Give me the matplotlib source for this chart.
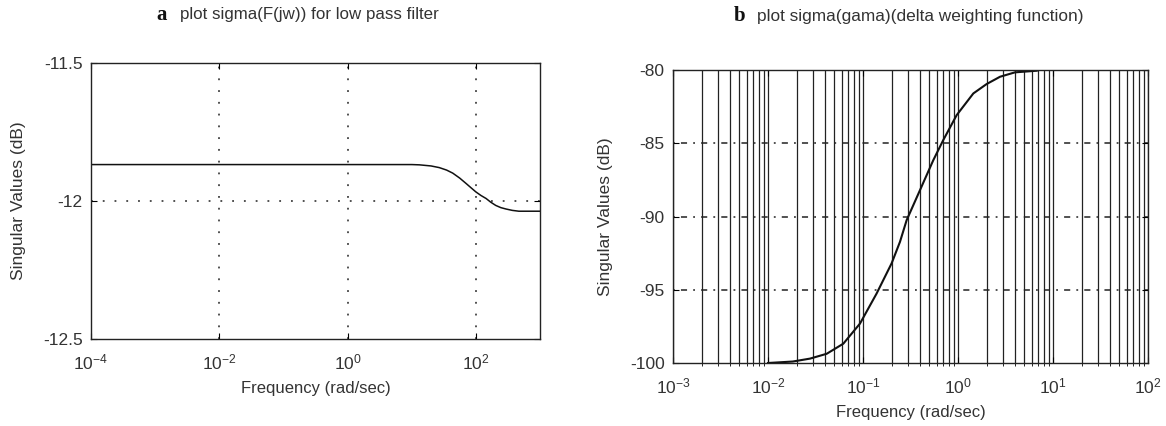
import numpy as np
import matplotlib
matplotlib.use("Agg")
import matplotlib.pyplot as plt
from matplotlib.ticker import FixedLocator, LogLocator, NullLocator, FixedFormatter

plt.rcParams["font.family"] = ["Liberation Sans", "DejaVu Sans"]
plt.rcParams["mathtext.default"] = "regular"

# panel a: sigma of the low pass filter
freq_a = [1e-4, 1.0, 10.0, 13.2, 20.0, 26.9, 35.0, 43.6, 56.0, 70.8, 85.0,
          100.0, 120.0, 144.5, 170.0, 204.0, 245.0, 295.0, 370.0, 468.0, 1000.0]
sv_a = [-11.868, -11.868, -11.868, -11.869, -11.873, -11.879, -11.888, -11.899,
        -11.917, -11.937, -11.953, -11.967, -11.980, -11.991, -12.004, -12.016,
        -12.024, -12.029, -12.034, -12.037, -12.037]

# panel b: delta weighting function
freq_b = [0.01, 0.0182, 0.0277, 0.0415, 0.0621, 0.0929, 0.139, 0.200, 0.245,
          0.288, 0.398, 0.550, 0.700, 0.968, 1.45, 2.0, 2.77, 3.98, 6.73]
sv_b = [-100.0, -99.9, -99.7, -99.37, -98.68, -97.31, -95.26, -93.2, -91.73,
        -90.25, -88.2, -86.15, -84.78, -83.08, -81.6, -80.96, -80.46, -80.16, -80.05]

ticks_a = [1e-4, 1e-2, 1e0, 1e2]
ticklabels_a = ["$10^{-4}$", "$10^{-2}$", "$10^{0}$", "$10^{2}$"]
yticks_a = [-12.5, -12, -11.5]
ticks_b = [1e-3, 1e-2, 1e-1, 1e0, 1e1, 1e2]
ticklabels_b = ["$10^{-3}$", "$10^{-2}$", "$10^{-1}$", "$10^{0}$", "$10^{1}$", "$10^{2}$"]
yticks_b = [-100, -95, -90, -85, -80]

txt = "#333333"
dots = (0, (1.2, 6.5))

fig = plt.figure(figsize=(11.66, 4.26), dpi=100)
ax1 = fig.add_axes([91 / 1166, 1 - 339 / 426, 449 / 1166, 276 / 426])
ax2 = fig.add_axes([673 / 1166, 1 - 363 / 426, 475 / 1166, 293 / 426])

for ax in (ax1, ax2):
    ax.set_xscale("log")
    ax.tick_params(direction="in", top=True, right=True, labelsize=12.5,
                   labelcolor=txt, length=4, width=0.8)
    ax.tick_params(axis="x", pad=10)
    ax.tick_params(axis="y", pad=6)
    for s in ax.spines.values():
        s.set_linewidth(1.0)
        s.set_color("#222222")
    ax.set_xlabel("Frequency (rad/sec)", fontsize=12, color=txt, labelpad=6)
    ax.set_ylabel("Singular Values (dB)", fontsize=12.5, color=txt, labelpad=12)

# --- a ---
ax1.plot(freq_a, sv_a, color="#111111", lw=1.1)
ax1.set_xlim(1e-4, 1e3)
ax1.set_ylim(-12.5, -11.5)
ax1.xaxis.set_major_locator(FixedLocator(ticks_a))
ax1.xaxis.set_major_formatter(FixedFormatter(ticklabels_a))
ax1.xaxis.set_minor_locator(NullLocator())
ax1.set_yticks(yticks_a)
ax1.set_yticklabels(["-12.5", "-12", "-11.5"])
ax1.grid(True, which="major", color="#222222", lw=1.1, linestyle=dots)

# --- b ---
ax2.plot(freq_b, sv_b, color="#111111", lw=1.5)
ax2.set_xlim(1e-3, 1e2)
ax2.set_ylim(-100, -80)
ax2.xaxis.set_major_locator(FixedLocator(ticks_b))
ax2.xaxis.set_major_formatter(FixedFormatter(ticklabels_b))
ax2.xaxis.set_minor_locator(LogLocator(base=10, subs=np.arange(2, 10), numticks=20))
ax2.set_yticks(yticks_b)
ax2.set_yticklabels([str(v) for v in yticks_b])
ax2.grid(True, which="both", axis="x", color="#222222", lw=0.9, linestyle="-")
ax2.grid(True, which="major", axis="y", color="#222222", lw=1.1,
         linestyle=(0, (1.2, 4, 4, 4)))

# no dotted grid lying on the frame
for ax in (ax1, ax2):
    yt = ax.yaxis.get_major_ticks()
    yt[0].gridline.set_visible(False)
    yt[-1].gridline.set_visible(False)
ax1.xaxis.get_major_ticks()[0].gridline.set_visible(False)

# titles: bold serif letter followed by sans text
fig.text(156 / 1166, 1 - 15 / 426, "a", fontsize=15, fontweight="bold",
         family="Liberation Serif", va="center", ha="left", color="#111111")
fig.text(180 / 1166, 1 - 15 / 426, "plot sigma(F(jw)) for low pass filter",
         fontsize=12.2, va="center", ha="left", color=txt)
fig.text(734 / 1166, 1 - 16 / 426, "b", fontsize=15, fontweight="bold",
         family="Liberation Serif", va="center", ha="left", color="#111111")
fig.text(757 / 1166, 1 - 16 / 426, "plot sigma(gama)(delta weighting function)",
         fontsize=12.4, va="center", ha="left", color=txt)

fig.savefig("out.png", dpi=100, facecolor="white")
